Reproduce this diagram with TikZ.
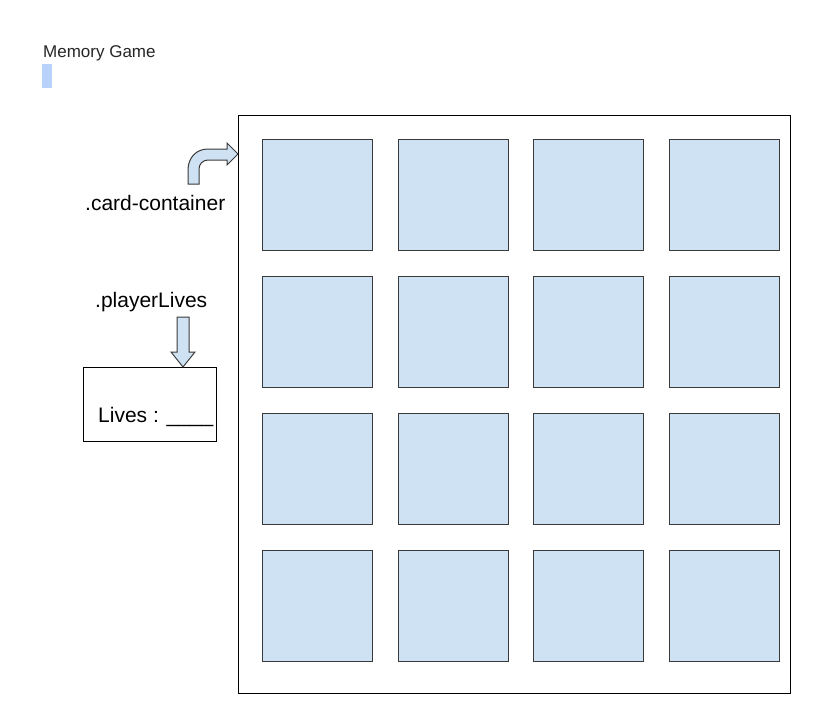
\documentclass[tikz,border=0pt]{standalone}
\usepackage{fontspec}
\setmainfont{Liberation Sans}
\begin{document}
\begin{tikzpicture}[x=1pt,y=-1pt,
  cardbox/.style={draw=cardstroke, fill=cardfill, line width=1pt, minimum width=110pt, minimum height=111pt, anchor=north west, inner sep=0pt},
  label/.style={font=\fontsize{21}{24}\selectfont, anchor=base west, inner sep=0pt},
  arrowshape/.style={draw=cardstroke, fill=cardfill, line width=1pt, line join=miter}]
\definecolor{cardfill}{HTML}{CFE2F3}
\definecolor{cardstroke}{HTML}{3A3A3A}
\definecolor{cursor}{HTML}{B8D2FB}
\useasboundingbox (0,0) rectangle (838,718);
\fill[white] (0,0) rectangle (838,718);
% title and cursor
\node[font=\fontsize{17}{20}\selectfont, anchor=base west, inner sep=0pt, text=black!85] (title) at (43,57) {Memory Game};
\fill[cursor] (42,64) rectangle (51.5,88);
% container
\node[draw=black, line width=1pt, minimum width=552pt, minimum height=578pt, anchor=north west, inner sep=0pt] (container) at (238,115) {};
% cards
\foreach \r/\y in {1/139,2/276,3/413,4/550}{
  \foreach \c/\x in {1/262,2/398,3/533,4/669}{
    \node[cardbox] (card-\r-\c) at (\x,\y) {};
  }
}
% labels
\node[label] (cc) at (85,210) {.card-container};
\node[label] (pl) at (95,307) {.playerLives};
% lives box
\node[draw=black, line width=1pt, minimum width=133pt, minimum height=74pt, anchor=north west, inner sep=0pt] (livesbox) at (83,367) {};
\node[label] (lives) at (98,422) {Lives : \_\_\_\_};
% bent arrow
\draw[arrowshape] (188,184) -- (188,170) .. controls (188,158) and (196,149) .. (208,149)
  -- (227,149) -- (227,143) -- (238,154) -- (227,165) -- (227,160) -- (208,160)
  .. controls (203,160) and (199,164) .. (199,169) -- (199,184) -- cycle;
% down arrow
\draw[arrowshape] (177,317) -- (189,317) -- (189,352) -- (195,352) -- (183,367) -- (171,352) -- (177,352) -- cycle;
\end{tikzpicture}
\end{document}
